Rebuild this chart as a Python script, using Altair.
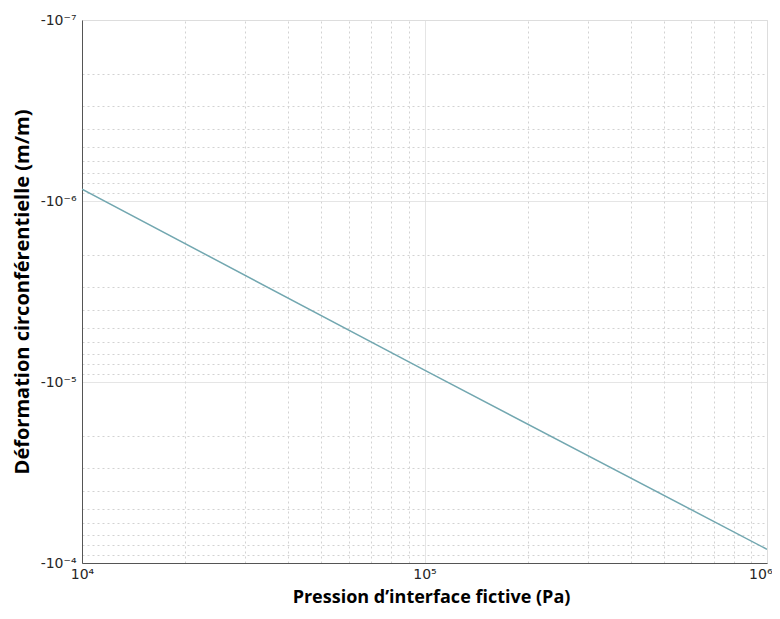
import altair as alt
import pandas as pd

# Data
pressure = [1e4, 1e5, 1e6]                      # Pa
strain = [-8.6e-7, -8.6e-6, -8.4e-5]            # m/m

x_ticks = [1e4, 2e4, 3e4, 4e4, 5e4, 6e4, 7e4, 8e4, 9e4,
           1e5, 2e5, 3e5, 4e5, 5e5, 6e5, 7e5, 8e5, 9e5, 1e6]
y_ticks = [1e-7, 2e-7, 3e-7, 4e-7, 5e-7, 6e-7, 7e-7, 8e-7, 9e-7,
           1e-6, 2e-6, 3e-6, 4e-6, 5e-6, 6e-6, 7e-6, 8e-6, 9e-6,
           1e-5, 2e-5, 3e-5, 4e-5, 5e-5, 6e-5, 7e-5, 8e-5, 9e-5, 1e-4]

x_title = "Pression d’interface fictive (Pa)"
y_title = "Déformation circonférentielle (m/m)"

df = pd.DataFrame({"p": pressure, "e": strain})

major = "abs(log(datum.value)/LN10 - round(log(datum.value)/LN10)) < 1e-6"
sup = "['⁰','¹','²','³','⁴','⁵','⁶','⁷','⁸','⁹'][abs(round(log(datum.value)/LN10))]"
grid_color = {"condition": {"test": major, "value": "#dcdcdc"}, "value": "#d2d2d2"}
grid_dash = {"condition": {"test": major, "value": [1, 0]}, "value": [2, 3]}

x_axis = alt.Axis(
    values=x_ticks,
    labelExpr=f"({major}) ? '10' + {sup} : ''",
    title=x_title,
    titleFont="Open Sans", titleFontSize=18, titleFontWeight="bold", titleColor="#000000",
    titlePadding=7, titleX=349,
    labelFont="DejaVu Sans", labelFontSize=14, labelColor="#262626", labelPadding=4,
    labelFlush=False,
    labelAlign={"condition": {"test": "datum.value > 9.9e5", "value": "right"}, "value": "center"},
    labelOffset={"condition": {"test": "datum.value > 9.9e5", "value": 5}, "value": 0},
    ticks=False,
    domainColor="#555555", domainWidth=1,
    gridColor=grid_color, gridDash=grid_dash, gridWidth=1,
)

y_axis = alt.Axis(
    values=y_ticks,
    labelExpr=f"({major}) ? '-10⁻' + {sup} : ''",
    title=y_title,
    titleFont="Open Sans", titleFontSize=20, titleFontWeight="bold", titleColor="#000000",
    titlePadding=8,
    labelFont="DejaVu Sans", labelFontSize=14, labelColor="#262626", labelPadding=6,
    labelFlush=False,
    ticks=False,
    domainColor="#555555", domainWidth=1,
    gridColor=grid_color, gridDash=grid_dash, gridWidth=1,
)

chart = (
    alt.Chart(df)
    .transform_calculate(mag="-datum.e")
    .mark_line(color="#72a7b0", strokeWidth=1.5, clip=True)
    .encode(
        x=alt.X("p:Q", scale=alt.Scale(type="log", domain=[1e4, 1e6], nice=False), axis=x_axis),
        y=alt.Y("mag:Q", scale=alt.Scale(type="log", domain=[1e-7, 1e-4], nice=False, reverse=True), axis=y_axis),
    )
    .properties(
        width=685, height=543,
        autosize=alt.AutoSizeParams(type="none"),
        padding={"left": 74, "top": 12, "right": 5, "bottom": 48},
    )
    .configure_view(stroke="#555555", strokeWidth=1)
    .configure(background="white")
)

chart.save("out.html", embed_options={"renderer": "svg", "actions": False})
